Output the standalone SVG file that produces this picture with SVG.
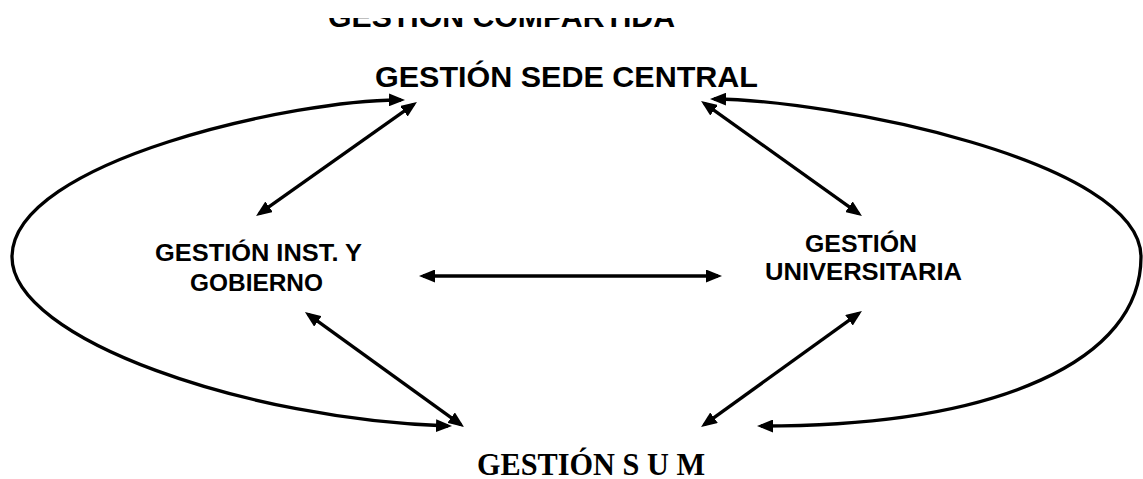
<svg xmlns="http://www.w3.org/2000/svg" width="1143" height="479" viewBox="0 0 1143 479">
  <style>
    .sans { font-family: "Liberation Sans", Arial, sans-serif; font-weight: bold; fill: #000; }
    .serif { font-family: "Liberation Serif", "Times New Roman", serif; font-weight: bold; fill: #000; }
    .conn { fill: none; stroke: #000; stroke-width: 3.3; marker-start: url(#ah); marker-end: url(#ah); }
  </style>
  <defs>
    <marker id="ah" markerUnits="userSpaceOnUse" markerWidth="16" markerHeight="13" refX="12" refY="6.5" orient="auto-start-reverse" viewBox="0 0 16 13">
      <path d="M0,0 L16,6.5 L0,13 z" fill="#000"/>
    </marker>
    <clipPath id="clipTop">
      <rect x="0" y="18" width="1143" height="30"/>
    </clipPath>
  </defs>
  <rect width="1143" height="479" fill="#fff"/>

  <g id="compartida" clip-path="url(#clipTop)">
    <text class="sans" x="328" y="27" font-size="29" textLength="347" lengthAdjust="spacingAndGlyphs">GESTIÓN COMPARTIDA</text>
  </g>

  <g id="sede-central">
    <text class="sans" x="375" y="87" font-size="29" textLength="383" lengthAdjust="spacingAndGlyphs">GESTIÓN SEDE CENTRAL</text>
  </g>

  <g id="inst-gobierno">
    <text class="sans" x="155" y="261" font-size="24.5" textLength="207" lengthAdjust="spacingAndGlyphs">GESTIÓN INST. Y</text>
    <text class="sans" x="190" y="291" font-size="24.5" textLength="133" lengthAdjust="spacingAndGlyphs">GOBIERNO</text>
  </g>

  <g id="universitaria">
    <text class="sans" x="805" y="252" font-size="24.5" textLength="112" lengthAdjust="spacingAndGlyphs">GESTIÓN</text>
    <text class="sans" x="765" y="279.5" font-size="24.5" textLength="197" lengthAdjust="spacingAndGlyphs">UNIVERSITARIA</text>
  </g>

  <g id="sum">
    <text class="serif" x="477" y="475" font-size="31" textLength="228" lengthAdjust="spacingAndGlyphs">GESTIÓN S U M</text>
  </g>

  <g id="connectors">
    <path class="conn" d="M401,100 C300,99 12,160 12,257 C12,340 250,420 448,426"/>
    <path class="conn" d="M714,99 C830,100 1141,160 1141,257 C1141,360 1000,426 761,426"/>
    <path class="conn" d="M259.3,213.7 L413.7,104.3"/>
    <path class="conn" d="M308.2,314.3 L460.8,424.7"/>
    <path class="conn" d="M704.3,103.3 L858.7,213.7"/>
    <path class="conn" d="M858.7,313.3 L704.3,424.7"/>
    <path class="conn" d="M423,276 L718,276"/>
  </g>
</svg>
